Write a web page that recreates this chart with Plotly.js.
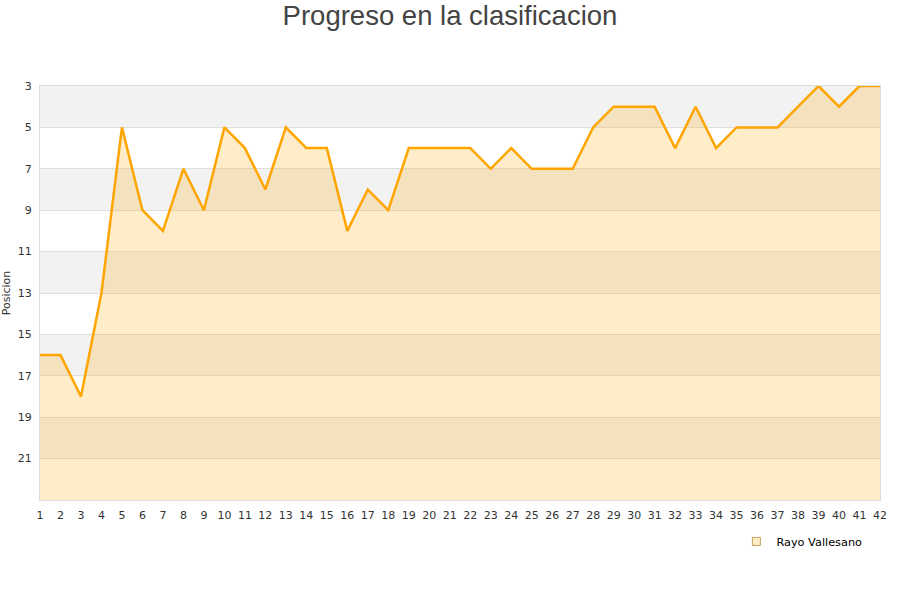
<!DOCTYPE html>
<html><head><meta charset="utf-8">
<script src="https://cdn.plot.ly/plotly-3.0.1.min.js"></script>
<style>body{margin:0;background:#fff}#chart{width:900px;height:600px}</style>
</head><body><div id="chart"></div>
<script>
const jornadas = [1,2,3,4,5,6,7,8,9,10,11,12,13,14,15,16,17,18,19,20,21,22,23,24,25,26,27,28,29,30,31,32,33,34,35,36,37,38,39,40,41,42];
const posicion = [16,16,18,13,5,9,10,7,9,5,6,8,5,6,6,10,8,9,6,6,6,6,7,6,7,7,7,5,4,4,4,6,4,6,5,5,5,4,3,4,3,3];
const equipo = "Rayo Vallesano";
const yMin = 3, yMax = 23;
const bandStarts = [3,7,11,15,19];

const baseline = jornadas.map(() => yMax);
const shapes = bandStarts.map(s => ({type:'rect', xref:'paper', yref:'y', x0:0, x1:1, y0:s, y1:s+2, fillcolor:'#f2f2f2', line:{width:0}, layer:'below'}));

const traces = [
  {x: jornadas, y: baseline, mode:'lines', line:{width:0}, hoverinfo:'skip', showlegend:false},
  {x: jornadas, y: posicion, name: equipo, mode:'lines', fill:'tonexty', fillcolor:'rgba(255,165,0,0.21)', line:{color:'#ffa500', width:2.5}, showlegend:false},
  {x: [null], y: [null], name: equipo, mode:'markers', marker:{symbol:'square', size:8, color:'#ffecc8', line:{color:'#c8a060', width:1}}, showlegend:true}
];

const layout = {
  width:900, height:600,
  margin:{l:40, r:20, t:86, b:100},
  paper_bgcolor:'#fff', plot_bgcolor:'rgba(0,0,0,0)',
  font:{family:'DejaVu Sans, sans-serif', size:11, color:'#333'},
  title:{text:'Progreso en la clasificacion', x:0.5, xanchor:'center', y:0.99, yanchor:'top', font:{family:'Liberation Sans, Arial, sans-serif', size:27.5, color:'#444'}},
  xaxis:{range:[1,42], tickmode:'array', tickvals:jornadas, ticktext:jornadas.map(String), showgrid:false, zeroline:false, showline:true, linecolor:'#ddd', mirror:true, ticks:'', ticklabelstandoff:5, tickfont:{size:11, color:'#333'}},
  yaxis:{range:[yMax,yMin], tickmode:'array', tickvals:[3,5,7,9,11,13,15,17,19,21], showgrid:true, gridcolor:'#dedede', zeroline:false, showline:true, linecolor:'#ddd', mirror:true, ticks:'', ticklabelstandoff:5, tickfont:{size:11, color:'#333'}, title:{text:'Posicion', font:{size:11, color:'#333'}, standoff:6}},
  shapes: shapes,
  showlegend:true,
  legend:{x:0.985, xanchor:'right', y:-0.065, yanchor:'top', orientation:'h', font:{size:11.3, color:'#000'}, bgcolor:'rgba(0,0,0,0)', itemwidth:30}
};
Plotly.newPlot('chart', traces, layout, {displayModeBar:false, staticPlot:true});
</script></body></html>
